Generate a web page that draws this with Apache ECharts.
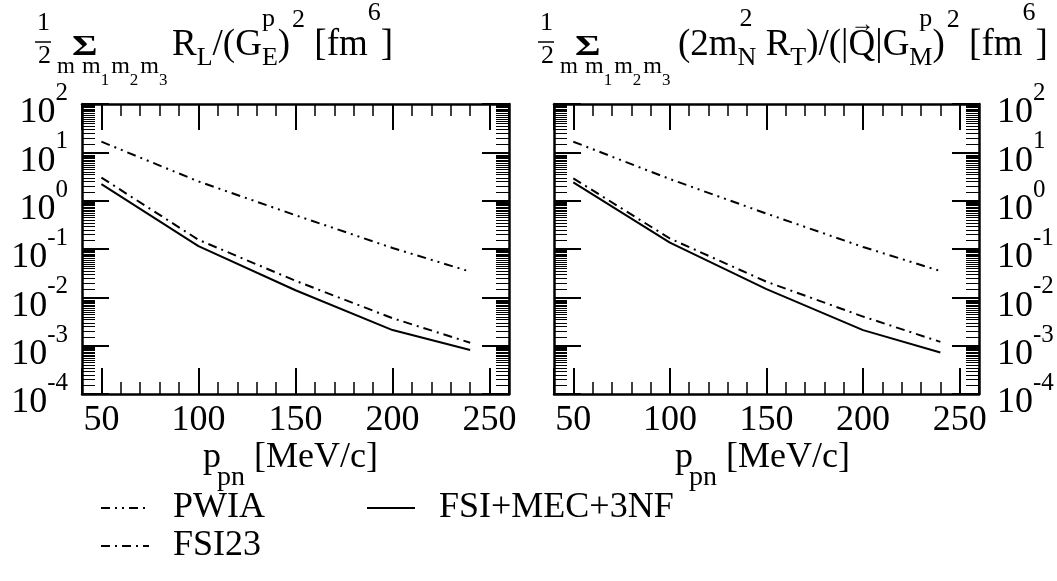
<!DOCTYPE html>
<html>
<head>
<meta charset="utf-8">
<script src="https://cdn.jsdelivr.net/npm/echarts@6/dist/echarts.min.js"></script>
<style>
  html, body { margin: 0; padding: 0; background: #fff; }
  #chart { width: 1057px; height: 581px; }
</style>
</head>
<body>
<div id="chart"></div>
<script>
// Momentum grid of the calculations [MeV/c]
const momentum = [50, 100, 150, 200, 240];

// Longitudinal response, summed over spin projections [fm^6]
const rlPWIA  = [16.6, 2.5, 0.5, 0.105, 0.034];
const rlFSI23 = [3.0, 0.155, 0.022, 0.0037, 0.00115];
const rlFull  = [2.2, 0.115, 0.014, 0.0021, 0.00081];

// Transverse response, summed over spin projections [fm^6]
const rtPWIA  = [16.6, 2.8, 0.54, 0.11, 0.035];
const rtFSI23 = [2.9, 0.165, 0.021, 0.0040, 0.0012];
const rtFull  = [2.4, 0.135, 0.0148, 0.0021, 0.00072];

const seriesNames = ['PWIA', 'FSI23', 'FSI+MEC+3NF'];
const xLabelValues = [50, 100, 150, 200, 250];
const decadeExponents = [-4, -3, -2, -1, 0, 1, 2];
// mantissas of the minor ticks drawn inside every decade
const minorMantissas = [1.5, 2, 2.5, 3, 3.5, 4, 4.5, 5, 5.5, 6, 6.5, 7, 7.5, 8, 8.5, 9, 9.5];

const SERIF = '"Liberation Serif", "Times New Roman", serif';
const BLACK = '#000';
const dashStyles = {
  'PWIA': [9, 5, 2, 5, 2, 5],
  'FSI23': [9, 5, 2, 5],
  'FSI+MEC+3NF': 'solid'
};

const chart = echarts.init(document.getElementById('chart'), null, { renderer: 'canvas' });

const gridBoxes = [
  { left: 82, top: 104, width: 427, height: 290 },
  { left: 554, top: 104, width: 425, height: 290 }
];

function xAxesFor(g) {
  const common = { gridIndex: g, type: 'value', min: 40, max: 260, splitLine: { show: false } };
  const frame = { show: true, onZero: false, lineStyle: { color: BLACK, width: 2.5 } };
  const longTick = { show: true, inside: true, length: 26, lineStyle: { color: BLACK, width: 2 } };
  const shortTick = { show: true, inside: true, length: 12, lineStyle: { color: BLACK, width: 1.5 } };
  return [
    Object.assign({}, common, {
      position: 'bottom', splitNumber: 5, axisLine: frame, axisTick: longTick,
      axisLabel: {
        show: true, margin: 9, fontFamily: SERIF, fontSize: 36, color: BLACK,
        formatter: v => (xLabelValues.indexOf(v) >= 0 ? String(v) : '')
      }
    }),
    Object.assign({}, common, {
      position: 'bottom', interval: 10, axisLine: { show: false }, axisTick: shortTick, axisLabel: { show: false }
    }),
    Object.assign({}, common, {
      position: 'top', splitNumber: 5, axisLine: frame, axisTick: longTick, axisLabel: { show: false }
    }),
    Object.assign({}, common, {
      position: 'top', interval: 10, axisLine: { show: false }, axisTick: shortTick, axisLabel: { show: false }
    })
  ];
}

function yAxesFor(g) {
  const common = {
    gridIndex: g, type: 'log', logBase: 10, min: 1e-4, max: 1e2, splitNumber: 6,
    splitLine: { show: false },
    axisLine: { show: true, onZero: false, lineStyle: { color: BLACK, width: 2.5 } },
    axisTick: { show: true, inside: true, length: 27, lineStyle: { color: BLACK, width: 2 } },
    axisLabel: { show: false }
  };
  return [
    Object.assign({}, common, { position: 'left' }),
    Object.assign({}, common, { position: 'right' })
  ];
}

function curve(name, values, g) {
  return {
    name: name, type: 'line', xAxisIndex: 4 * g, yAxisIndex: 2 * g,
    data: momentum.map((p, i) => [p, values[i]]),
    symbol: 'none', silent: true, animation: false,
    lineStyle: { color: BLACK, width: 2, type: dashStyles[name] },
    itemStyle: { color: BLACK }
  };
}

const legendText = { fontFamily: SERIF, fontSize: 36, color: BLACK, padding: [0, 0, 0, 19] };
const legendCommon = {
  left: 100, padding: 0, itemWidth: 48, itemHeight: 14, selectedMode: false,
  textStyle: legendText, itemStyle: { opacity: 0 }
};

chart.setOption({
  animation: false,
  backgroundColor: '#fff',
  grid: gridBoxes.map(b => Object.assign({ containLabel: false, outerBoundsMode: 'none' }, b)),
  xAxis: xAxesFor(0).concat(xAxesFor(1)),
  yAxis: yAxesFor(0).concat(yAxesFor(1)),
  legend: [
    Object.assign({ data: ['PWIA', 'FSI+MEC+3NF'], top: 490, itemGap: 101 }, legendCommon),
    Object.assign({ data: ['FSI23'], top: 528 }, legendCommon)
  ],
  series: [
    curve('PWIA', rlPWIA, 0), curve('FSI23', rlFSI23, 0), curve('FSI+MEC+3NF', rlFull, 0),
    curve('PWIA', rtPWIA, 1), curve('FSI23', rtFSI23, 1), curve('FSI+MEC+3NF', rtFull, 1)
  ]
});

// ---- typeset formula pieces -------------------------------------------
const measureCtx = document.createElement('canvas').getContext('2d');
function fontOf(size, weight) { return (weight || 'normal') + ' ' + size + 'px ' + SERIF; }
function textWidth(t, size, weight) { measureCtx.font = fontOf(size, weight); return measureCtx.measureText(t).width; }
function textEl(t, x, baseline, size, weight, sx) {
  return {
    type: 'text', x: x, y: baseline - 0.3375 * size, silent: true, scaleX: sx || 1,
    style: { text: t, font: fontOf(size, weight), fill: BLACK,
      align: 'left', verticalAlign: 'middle', textAlign: 'left', textVerticalAlign: 'middle' }
  };
}
// lay tokens out left to right; "stack" tokens share their slot with the next token
function flow(x, baseline, tokens) {
  const els = [];
  let cx = x, stackW = 0;
  tokens.forEach(tk => {
    const px = cx + (tk.dx || 0);
    els.push(textEl(tk.t, px, baseline + (tk.dy || 0), tk.s, tk.w));
    const wd = textWidth(tk.t, tk.s, tk.w) + (tk.dx || 0);
    if (tk.stack) { stackW = Math.max(stackW, wd); }
    else { cx += Math.max(wd, stackW) + (tk.gap || 0); stackW = 0; }
  });
  return els;
}
function spinSum(x0) {
  // ½ Σ over m, m1 m2 m3
  return [
    textEl('1', x0 + 2, 32, 26),
    { type: 'line', silent: true, shape: { x1: x0, y1: 42, x2: x0 + 16, y2: 42 }, style: { stroke: BLACK, lineWidth: 1.5 } },
    textEl('2', x0 + 3, 65, 26),
    textEl('m', x0 + 22, 75, 23),
    textEl('Σ', x0 + 37, 57, 30, 'bold', 1.3)
  ].concat(flow(x0 + 47, 75, [
    { t: 'm', s: 24 }, { t: '1', s: 17, dy: 11, gap: 2 },
    { t: 'm', s: 24 }, { t: '2', s: 17, dy: 11, gap: 2 },
    { t: 'm', s: 24 }, { t: '3', s: 17, dy: 11 }
  ]));
}
function momentumName(x) {
  return flow(x, 470, [
    { t: 'p', s: 36 }, { t: 'pn', s: 28, dy: 17, dx: -4 }, { t: ' [MeV/c]', s: 36 }
  ]);
}

const leftTitle = spinSum(35).concat(flow(172, 58, [
  { t: 'R', s: 37 }, { t: 'L', s: 26, dy: 9 }, { t: '/(G', s: 37 },
  { t: 'p', s: 26, dy: -30, stack: true }, { t: 'E', s: 26, dy: 9 },
  { t: ')', s: 37 }, { t: '2', s: 26, dy: -29, dx: 2 }, { t: ' [fm', s: 37 },
  { t: '6', s: 26, dy: -36 }, { t: ']', s: 37 }
]));
const rightTitle = spinSum(538).concat(flow(678, 58, [
  { t: '(2m', s: 37 }, { t: '2', s: 26, dy: -30, dx: 2, stack: true }, { t: 'N', s: 26, dy: 9 },
  { t: ' R', s: 37 }, { t: 'T', s: 26, dy: 9 }, { t: ')/(|', s: 37 },
  { t: '→', s: 24, dy: -25, dx: 2, stack: true }, { t: 'Q', s: 37 },
  { t: '|G', s: 37 }, { t: 'p', s: 26, dy: -30, dx: 10, stack: true }, { t: 'M', s: 26, dy: 9 },
  { t: ')', s: 37 }, { t: '2', s: 26, dy: -29, dx: 2 }, { t: ' [fm', s: 37 },
  { t: '6', s: 26, dy: -36 }, { t: ']', s: 37 }
]));

// ---- decade labels 10^n beside the frames, placed through the log scale ----
function powerLabels() {
  const els = [];
  decadeExponents.forEach(e => {
    const v = Math.pow(10, e);
    const sup = String(e);
    const wBase = textWidth('10', 36);
    const wSup = textWidth(sup, 25);
    const pl = chart.convertToPixel({ seriesIndex: 0 }, [40, v]);
    const pr = chart.convertToPixel({ seriesIndex: 3 }, [260, v]);
    // left plot: right-aligned 14 px left of the frame
    const xl = pl[0] - 14 - wBase - wSup;
    els.push(textEl('10', xl, pl[1] + 21, 36), textEl(sup, xl + wBase, pl[1] - 2, 25));
    // right plot: left-aligned 18 px right of the frame
    const xr = pr[0] + 18;
    els.push(textEl('10', xr, pr[1] + 21, 36), textEl(sup, xr + wBase, pr[1] - 2, 25));
  });
  return els;
}

// ---- logarithmic minor ticks on both vertical frame sides --------------
function minorYTicks() {
  const els = [];
  [0, 1].forEach(g => {
    const finder = { seriesIndex: 3 * g };
    for (let e = -4; e < 2; e++) {
      minorMantissas.forEach(m => {
        const v = m * Math.pow(10, e);
        const pl = chart.convertToPixel(finder, [40, v]);
        const pr = chart.convertToPixel(finder, [260, v]);
        const y = Math.round(pl[1]) + 0.5;
        els.push({ type: 'line', silent: true, shape: { x1: pl[0], y1: y, x2: pl[0] + 13, y2: y }, style: { stroke: BLACK, lineWidth: 1 } });
        els.push({ type: 'line', silent: true, shape: { x1: pr[0] - 13, y1: y, x2: pr[0], y2: y }, style: { stroke: BLACK, lineWidth: 1 } });
      });
    }
  });
  return els;
}

chart.setOption({
  graphic: [{
    type: 'group', silent: true,
    children: leftTitle.concat(rightTitle, momentumName(203), momentumName(675), powerLabels(), minorYTicks())
  }]
});
</script>
</body>
</html>
